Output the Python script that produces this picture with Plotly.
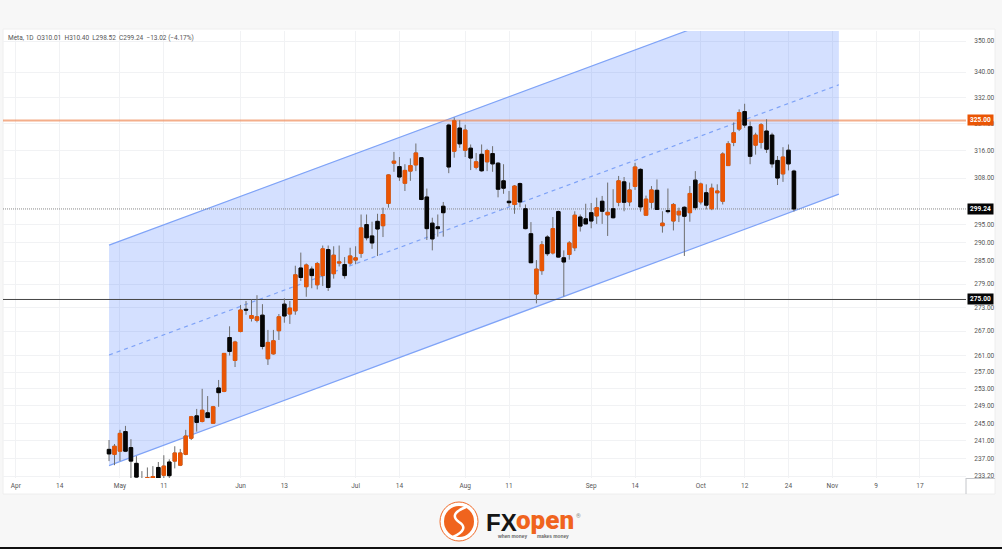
import math
import plotly.graph_objects as go

# candle values, bar 0 is Apr 27 and the last bar is Oct 25
opens = [239.1, 238.0, 238.7, 243.1, 239.5, 236.0, 232.0, 231.0, 231.5, 235.1, 233.4, 236.3, 236.5, 235.6, 238.0, 241.6,
         246.7, 245.4, 247.4, 245.0, 253.2, 252.4, 265.4, 259.8, 266.9, 272.5, 270.2, 269.7, 271.0, 260.2, 261.4, 267.1,
         273.8, 271.3, 272.1, 283.2, 278.3, 282.9, 278.8, 281.2, 288.1, 281.7, 284.5, 284.1, 284.5, 285.3, 287.1, 294.9,
         291.8, 295.8, 294.6, 300.8, 312.3, 311.3, 306.5, 310.0, 311.8, 313.9, 302.6, 295.3, 294.3, 300.0, 323.6, 315.8,
         322.7, 316.1, 316.7, 311.1, 314.9, 312.7, 315.1, 312.3, 307.2, 301.4, 300.5, 306.4, 299.3, 292.4, 276.4, 282.5,
         291.5, 287.2, 298.5, 285.9, 286.8, 288.6, 297.0, 296.5, 298.2, 297.3, 301.4, 297.6, 299.3, 301.1, 306.9, 301.2,
         305.6, 310.5, 297.5, 301.1, 304.5, 294.6, 298.8, 295.9, 297.6, 299.7, 298.2, 307.4, 301.2, 303.8, 299.3, 303.8,
         301.4, 311.6, 318.4, 322.4, 327.7, 323.1, 317.6, 318.4, 321.8, 320.6, 313.1, 309.2, 316.1, 310.01]
highs = [241.2, 240.3, 243.5, 244.4, 241.4, 237.6, 234.3, 235.1, 235.4, 236.3, 237.8, 236.9, 239.8, 239.2, 243.5, 246.7,
         248.3, 253.0, 251.3, 249.0, 255.1, 261.5, 268.2, 264.6, 273.6, 274.6, 275.0, 276.1, 273.8, 267.3, 267.3, 271.3,
         275.3, 274.6, 283.8, 287.3, 284.4, 283.6, 284.8, 289.2, 289.2, 289.0, 289.2, 286.1, 288.6, 289.0, 297.7, 297.7,
         295.7, 297.9, 299.6, 309.1, 315.6, 314.1, 312.0, 313.7, 318.1, 314.1, 305.0, 296.8, 297.7, 301.2, 324.0, 325.9,
         325.1, 323.7, 317.8, 315.3, 317.8, 316.5, 317.3, 312.6, 312.0, 304.3, 306.0, 306.7, 300.5, 295.6, 285.3, 290.4,
         292.0, 297.0, 298.8, 287.9, 290.4, 298.6, 297.7, 300.7, 300.9, 302.4, 302.9, 306.7, 304.8, 308.6, 308.3, 306.7,
         312.4, 310.8, 303.0, 305.7, 307.6, 298.6, 305.0, 300.9, 299.6, 300.0, 305.7, 310.0, 306.7, 306.2, 306.4, 306.2,
         315.5, 318.8, 324.4, 328.4, 330.1, 324.7, 321.3, 324.2, 325.4, 321.3, 314.4, 317.0, 317.8, 310.40]
lows = [236.5, 235.6, 236.5, 238.5, 231.0, 230.5, 229.9, 229.9, 230.0, 230.8, 231.5, 231.0, 234.9, 235.4, 237.8, 241.2,
        243.1, 245.2, 246.2, 244.9, 248.8, 252.2, 261.0, 258.2, 266.7, 271.1, 269.4, 269.2, 262.5, 258.7, 261.2, 264.8,
        269.1, 268.8, 271.1, 279.8, 275.7, 277.9, 277.6, 278.5, 277.2, 280.4, 283.6, 280.4, 284.0, 284.2, 285.9, 290.6,
        288.3, 286.4, 291.5, 299.6, 309.8, 307.2, 304.3, 307.2, 310.0, 301.7, 290.7, 287.9, 291.6, 291.6, 309.4, 313.9,
        316.8, 314.1, 310.3, 310.5, 309.8, 310.0, 309.8, 302.5, 303.5, 300.0, 297.9, 299.7, 293.6, 284.5, 274.0, 281.4,
        286.4, 286.8, 285.9, 275.8, 285.4, 287.7, 293.0, 295.0, 293.9, 295.1, 295.1, 291.8, 296.6, 300.0, 298.6, 300.0,
        304.6, 298.5, 297.5, 299.4, 299.1, 292.7, 298.0, 293.3, 295.6, 286.4, 295.7, 298.9, 300.5, 299.1, 298.9, 299.1,
        300.5, 311.5, 317.3, 321.8, 322.8, 312.0, 314.8, 316.6, 315.3, 311.0, 306.0, 306.9, 310.2, 298.52]
closes = [238.1, 239.8, 242.7, 238.7, 236.5, 233.0, 230.5, 232.9, 233.1, 232.5, 235.4, 233.3, 238.3, 238.3, 242.1, 246.5,
          245.2, 248.0, 246.3, 248.8, 252.1, 261.5, 262.0, 264.3, 272.3, 272.3, 270.9, 270.6, 263.2, 264.2, 264.6, 270.6,
          270.8, 272.8, 281.4, 280.7, 284.0, 281.2, 284.4, 288.3, 278.1, 286.6, 284.8, 281.2, 286.4, 285.9, 294.0, 291.3,
          289.9, 293.7, 297.7, 308.9, 312.9, 308.3, 310.2, 311.6, 315.3, 301.9, 293.8, 291.0, 293.8, 298.2, 311.2, 324.9,
          318.0, 322.1, 313.8, 312.7, 310.1, 316.0, 312.1, 304.8, 305.1, 301.0, 305.7, 301.2, 293.8, 284.6, 282.9, 289.4,
          287.0, 293.8, 286.1, 284.8, 289.9, 297.5, 294.5, 295.1, 295.9, 299.6, 298.6, 298.3, 296.8, 307.2, 301.1, 304.6,
          311.2, 299.8, 302.0, 304.6, 299.1, 295.3, 298.5, 300.5, 298.6, 297.2, 303.6, 299.6, 306.3, 300.3, 305.1, 304.3,
          315.0, 318.0, 321.3, 327.4, 323.6, 314.3, 320.6, 323.7, 316.4, 312.1, 308.0, 314.1, 312.1, 299.24]

# raising channel, price at its two ends
channel_x = [0, 133.2]
channel_upper = [289.3, 372.5]
channel_middle = [261.1, 336.0]
channel_lower = [235.5, 303.4]

level_orange = 325.0
level_last = 299.24
level_black = 275.0

y_ticks = [350, 340, 332, 324, 316, 308, 295, 290, 285, 279, 273, 267, 261, 257, 253, 249, 245, 241, 237, 233.2]
x_tick_bars = [-17, -9, 2, 10, 24, 32, 45, 53, 65, 73, 88, 96, 108, 116, 124, 132, 140, 148]
x_tick_labels = ["Apr", "14", "May", "11", "Jun", "13", "Jul", "14", "Aug", "11", "Sep", "14", "Oct", "12", "24", "Nov", "9", "17"]

W, H = 1002, 549
ORANGE = "#ea5504"
BLACK = "#050505"
BLUE = "#7fa3f7"
FONT = "Roboto"
TICK = 6.5
LEFT, RIGHT, TOP, BOTTOM = 3, 966, 31, 478
x_range = [-19.35, 156.4]
y_range = [math.log10(232.8), math.log10(353.3)]


def px(x):
    return (x - LEFT) / (RIGHT - LEFT)


def py(y):
    return (BOTTOM - y) / (BOTTOM - TOP)


def box(x0, y0, x1, y1, **kw):
    return dict(type="rect", xref="paper", yref="paper", x0=px(x0), x1=px(x1), y0=py(y0), y1=py(y1), **kw)


bars = list(range(len(opens)))
fig = go.Figure()

# channel fill and lines
fig.add_trace(go.Scatter(x=[channel_x[0], channel_x[1], channel_x[1], channel_x[0]],
                         y=[channel_upper[0], channel_upper[1], channel_lower[1], channel_lower[0]],
                         mode="none", fill="toself", fillcolor="rgba(41,98,255,0.2)"))
fig.add_trace(go.Scatter(x=channel_x, y=channel_upper, mode="lines", line=dict(color=BLUE, width=1.2)))
fig.add_trace(go.Scatter(x=channel_x, y=channel_lower, mode="lines", line=dict(color=BLUE, width=1.2)))
fig.add_trace(go.Scatter(x=channel_x, y=channel_middle, mode="lines",
                         line=dict(color=BLUE, width=1.2, dash="4px,4px")))

# price levels
fig.add_trace(go.Scatter(x=x_range, y=[level_orange, level_orange], mode="lines",
                         line=dict(color="rgba(240,140,90,0.7)", width=2)))
fig.add_trace(go.Scatter(x=x_range, y=[level_black, level_black], mode="lines",
                         line=dict(color="#444444", width=1)))
fig.add_trace(go.Scatter(x=x_range, y=[level_last, level_last], mode="lines",
                         line=dict(color="#888888", width=1, dash="1px,1px")))

# wicks first, then the bodies on top so wicks stay grey
fig.add_trace(go.Candlestick(x=bars, open=opens, high=highs, low=lows, close=closes, whiskerwidth=0, zorder=1,
                             increasing=dict(line=dict(color="#6e6e6e", width=1), fillcolor="rgba(0,0,0,0)"),
                             decreasing=dict(line=dict(color="#6e6e6e", width=1), fillcolor="rgba(0,0,0,0)")))
body_high = [max(o, c) for o, c in zip(opens, closes)]
body_low = [min(o, c) for o, c in zip(opens, closes)]
fig.add_trace(go.Candlestick(x=bars, open=opens, high=body_high, low=body_low, close=closes, whiskerwidth=0, zorder=2,
                             increasing=dict(line=dict(color=ORANGE, width=1), fillcolor=ORANGE),
                             decreasing=dict(line=dict(color=BLACK, width=1), fillcolor=BLACK)))

shapes = [
    # white chart panel and its frame
    box(3, 29, 995, 494, fillcolor="white", line=dict(color="#eeeeee", width=1), layer="below"),
    dict(type="line", xref="paper", yref="paper", x0=px(966), x1=px(966), y0=py(478), y1=py(494),
         line=dict(color="#c4c6ca", width=1)),
    dict(type="line", xref="paper", yref="paper", x0=px(966), x1=px(995), y0=py(478.5), y1=py(478.5),
         line=dict(color="#c4c6ca", width=1)),
    # black edge at the bottom of the image
    box(0, 547, 1002, 549, fillcolor="#111111", line=dict(width=0)),
    # logo roundel
    dict(type="circle", xref="paper", yref="paper", x0=px(440), x1=px(478), y0=py(502), y1=py(541),
         fillcolor="white", line=dict(color="#f06a28", width=1)),
    dict(type="circle", xref="paper", yref="paper", x0=px(444), x1=px(474), y0=py(506), y1=py(537),
         fillcolor="#f0641e", line=dict(width=0)),
    dict(type="path", xref="paper", yref="paper",
         path="M {} {} Q {} {} {} {} Q {} {} {} {}".format(px(466), py(507), px(448), py(514), px(459), py(522),
                                                           px(470), py(529), px(453), py(537)),
         line=dict(color="white", width=2.5)),
]


def label(text, x, y, color="#555555", size=TICK, family=FONT, weight="normal", anchor="left"):
    return dict(text=text, xref="paper", yref="paper", x=px(x), y=py(y), xanchor=anchor, yanchor="middle",
                showarrow=False, font=dict(color=color, size=size, family=family, weight=weight))


def price_tag(value, text, bg):
    return dict(text=text, xref="paper", yref="y", x=px(967), y=math.log10(value), xanchor="left", yanchor="middle",
                showarrow=False, width=25, height=10, borderpad=0, bgcolor=bg, align="center",
                font=dict(color="white", size=TICK, family=FONT, weight="bold"))


annotations = [
    label("Meta, 1D  O310.01  H310.40  L298.52  C299.24  −13.02 (−4.17%)", 6, 38),
    price_tag(level_orange, "325.00", ORANGE),
    price_tag(level_last, "299.24", BLACK),
    price_tag(level_black, "275.00", BLACK),
    label("FX", 484, 522, color="#151515", size=24, family="Liberation Sans", weight="bold"),
    label("open", 514, 520, color="#f0641e", size=26, family="Roboto", weight=900),
    label("when money", 495, 536, color="#666666", size=4.8, family="Liberation Sans", weight="bold"),
    label("makes money", 535, 536, color="#666666", size=4.8, family="Liberation Sans", weight="bold"),
    label("®", 574, 515, color="#888888", size=6),
]

fig.update_layout(
    width=W,
    height=H,
    autosize=False,
    margin=dict(l=LEFT, r=W - RIGHT, t=TOP, b=H - BOTTOM, pad=0),
    paper_bgcolor="#f7f7f7",
    plot_bgcolor="white",
    showlegend=False,
    boxgap=0.1,
    shapes=shapes,
    annotations=annotations,
    xaxis=dict(
        range=x_range,
        rangeslider_visible=False,
        tickmode="array",
        tickvals=x_tick_bars,
        ticktext=x_tick_labels,
        showgrid=True,
        gridcolor="#f1f2f4",
        gridwidth=1,
        zeroline=False,
        showline=True,
        linecolor="#c4c6ca",
        ticks="",
        ticklabelstandoff=1,
        tickfont=dict(size=TICK, color="#555555", family=FONT),
    ),
    yaxis=dict(
        type="log",
        range=y_range,
        side="right",
        tickmode="array",
        tickvals=y_ticks,
        ticktext=["{:.2f}".format(v) for v in y_ticks],
        showgrid=True,
        gridcolor="#f1f2f4",
        gridwidth=1,
        zeroline=False,
        showline=True,
        linecolor="#c4c6ca",
        ticks="",
        ticklabelstandoff=6,
        tickfont=dict(size=TICK, color="#555555", family=FONT),
    ),
)

# the default page margin would push the fixed-size figure off the window
fig.write_html("out.html", config={"displayModeBar": False},
               post_script="document.body.style.margin='0';")
